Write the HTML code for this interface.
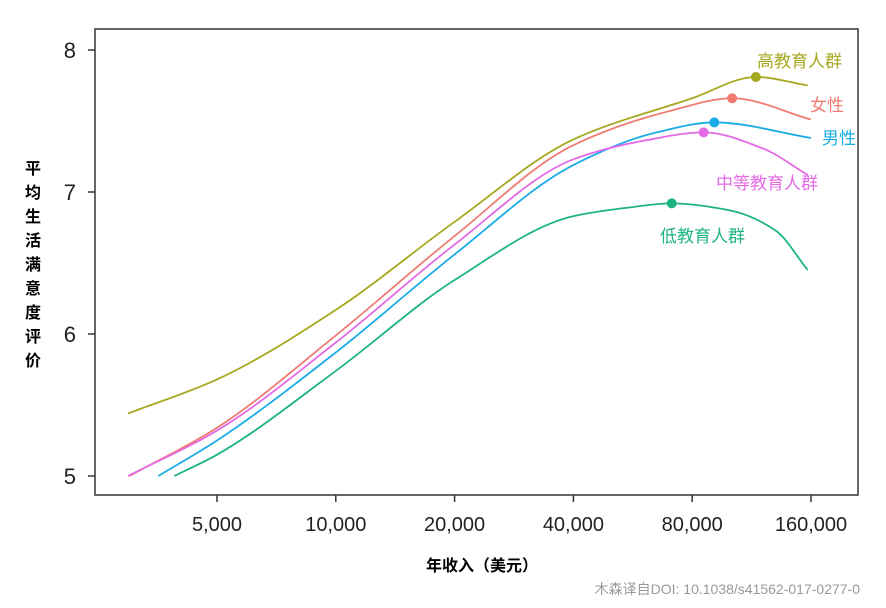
<!DOCTYPE html>
<html><head><meta charset="utf-8"><style>
body{margin:0;background:#fff;width:886px;height:603px;overflow:hidden}
svg text{font-family:"Liberation Sans","Noto Sans CJK SC",sans-serif}
</style></head><body>
<svg id="c" width="886" height="603">
<rect x="95" y="29" width="763" height="466" fill="none" stroke="#333" stroke-width="1.5"/>
<g id="axes"></g><g id="series"></g>
<text x="482" y="571" font-size="16" font-weight="bold" text-anchor="middle">年收入（美元）</text>
<g font-size="16" font-weight="bold" text-anchor="middle">
<text x="33" y="174">平</text><text x="33" y="198">均</text><text x="33" y="222">生</text><text x="33" y="246">活</text><text x="33" y="270">满</text><text x="33" y="294">意</text><text x="33" y="318">度</text><text x="33" y="342">评</text><text x="33" y="366">价</text></g>
<text x="860" y="594" font-size="14" fill="#999" text-anchor="end">木森译自DOI: 10.1038/s41562-017-0277-0</text>
</svg>
<script>
const xTicks=[5000,10000,20000,40000,80000,160000];
const xTickLabels=["5,000","10,000","20,000","40,000","80,000","160,000"];
const yTicks=[5,6,7,8];
const incHigh=[2975,5000,10000,20000,40000,80000,116000,157000];
const valHigh=[5.44,5.68,6.17,6.79,7.37,7.66,7.81,7.75];
const incFemale=[3000,5000,10000,20000,40000,70000,101000,160000];
const valFemale=[5.0,5.34,5.99,6.69,7.33,7.57,7.66,7.51];
const incMale=[3550,5000,10000,20000,40000,65000,91000,160000];
const valMale=[5.0,5.25,5.87,6.56,7.19,7.42,7.49,7.38];
const incMid=[2975,5000,10000,20000,40000,60000,85500,120000,157000];
const valMid=[5.0,5.32,5.94,6.63,7.23,7.36,7.42,7.31,7.12];
const incLow=[3900,5000,10000,20000,40000,55000,71000,100000,130000,157000];
const valLow=[5.0,5.15,5.74,6.38,6.83,6.89,6.92,6.87,6.73,6.45];
const names=["高教育人群","女性","男性","中等教育人群","低教育人群"];
const peakIdx=[6,6,6,6,6];
const X=v=>217+118.8*Math.log2(v/5000);
const Y=v=>476-142*(v-5);
const NS="http://www.w3.org/2000/svg";
function mk(t,a,p){const e=document.createElementNS(NS,t);for(const k in a)e.setAttribute(k,a[k]);p.appendChild(e);return e;}
const ax=document.getElementById('axes');
xTicks.forEach((t,i)=>{
 const l=mk('line',{x1:X(t),x2:X(t),y1:495,y2:502,stroke:'#333','stroke-width':1.5},ax);
 
 
 const tx=mk('text',{x:X(t),y:531,'font-size':20,'text-anchor':'middle',fill:'#222'},ax);tx.textContent=xTickLabels[i];
 
 
});
yTicks.forEach(t=>{
 const l=mk('line',{x1:88,x2:95,y1:Y(t),y2:Y(t),stroke:'#333','stroke-width':1.5},ax);
 
 
 const tx=mk('text',{x:76,y:Y(t)+8,'font-size':22,'text-anchor':'end',fill:'#222'},ax);tx.textContent=t;
 
 
});
function monotonePath(pts){
 const n=pts.length,dx=[],sl=[],m=[];
 for(let i=0;i<n-1;i++){dx[i]=pts[i+1][0]-pts[i][0];sl[i]=(pts[i+1][1]-pts[i][1])/dx[i];}
 m[0]=sl[0];m[n-1]=sl[n-2];
 for(let i=1;i<n-1;i++){if(sl[i-1]*sl[i]<=0)m[i]=0;else{const w1=2*dx[i]+dx[i-1],w2=dx[i]+2*dx[i-1];m[i]=(w1+w2)/(w1/sl[i-1]+w2/sl[i]);}}
 let d='M'+pts[0][0]+','+pts[0][1];
 for(let i=0;i<n-1;i++){const h=dx[i]/3;d+=` C${pts[i][0]+h},${pts[i][1]+m[i]*h} ${pts[i+1][0]-h},${pts[i+1][1]-m[i+1]*h} ${pts[i+1][0]},${pts[i+1][1]}`;}
 return d;
}
const series=[[incHigh,valHigh,'#a6a81f',[757,67]],[incFemale,valFemale,'#ef7b72',[810,111]],[incMale,valMale,'#1aace6',[822,144]],[incMid,valMid,'#e46ae6',[716,189]],[incLow,valLow,'#1db57f',[660,242]]];
const sg=document.getElementById('series');
series.forEach((s,k)=>{
 const pts=s[0].map((v,i)=>[X(v),Y(s[1][i])]);
 const p=mk('path',{d:monotonePath(pts),fill:'none',stroke:s[2],'stroke-width':1.8},sg);
 
 
 const pk=pts[peakIdx[k]];
 const c=mk('circle',{cx:pk[0],cy:pk[1],r:5,fill:s[2]},sg);
 
 
 const t=mk('text',{x:s[3][0],y:s[3][1],'font-size':17,fill:s[2]},sg);t.textContent=names[k];
 
 
});
</script>
</body></html>
